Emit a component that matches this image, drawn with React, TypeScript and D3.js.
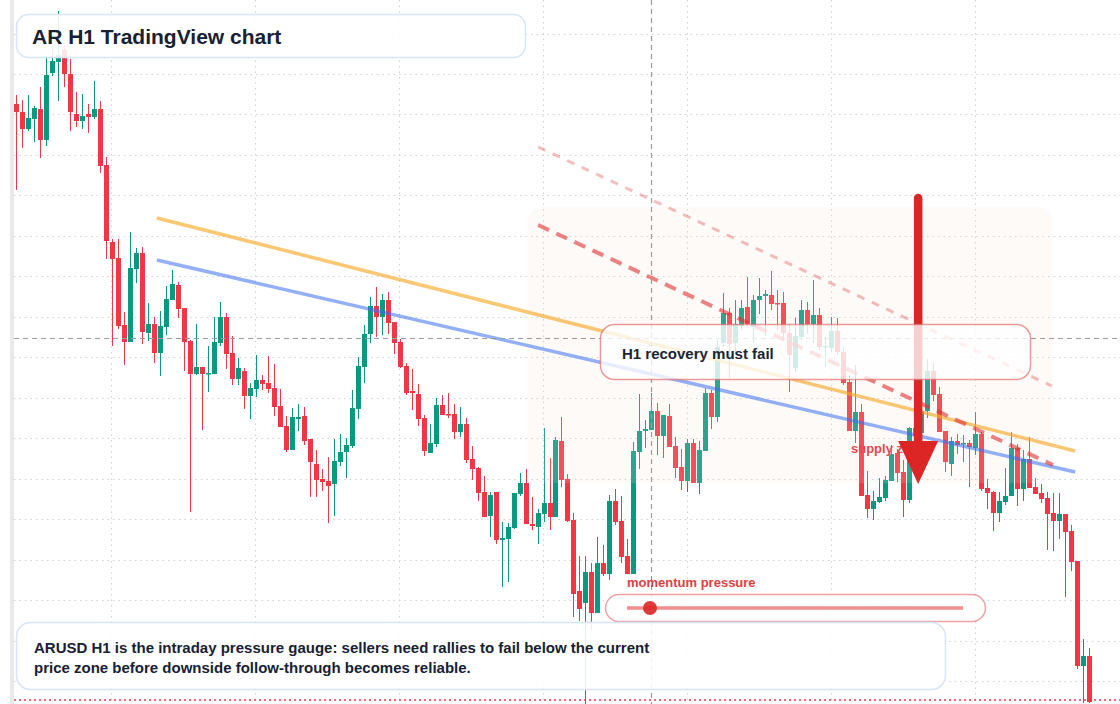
import React, { useEffect, useRef } from 'react';
import * as d3 from 'd3';

const W = 1120;
const H = 704;
const FONT = "'Liberation Sans', Arial, Helvetica, sans-serif";

// AR H1 candles, oldest first (price x 100)
const opens = [
  696, 688, 671, 681, 691, 660, 727, 738, 750, 726, 686, 679, 686, 683, 691, 635, 558, 542, 475, 458,
  531, 547, 467, 476, 447, 473, 500, 515, 492, 459, 426, 433, 426, 426, 457, 483, 447, 421, 429, 404,
  411, 420, 417, 412, 394, 374, 350, 381, 384, 361, 336, 321, 319, 316, 338, 348, 354, 391, 433, 466,
  494, 483, 500, 478, 458, 434, 409, 406, 382, 347, 356, 395, 386, 386, 368, 376, 341, 332, 308, 284,
  308, 260, 261, 272, 306, 317, 276, 273, 286, 297, 283, 359, 321, 280, 209, 197, 228, 187, 237, 226,
  299, 279, 244, 226, 348, 369, 370, 389, 364, 384, 354, 333, 319, 357, 317, 349, 407, 383, 457, 487,
  457, 474, 493, 473, 500, 504, 505, 497, 497, 467, 432, 463, 490, 476, 485, 453, 452, 469, 448, 418,
  369, 388, 305, 291, 298, 302, 319, 347, 328, 300, 372, 367, 389, 429, 406, 369, 336, 359, 356, 357,
  352, 366, 312, 308, 287, 298, 304, 352, 311, 341, 313, 307, 302, 287, 279, 286, 269, 239, 134, 144,
];
const highs = [
  705, 700, 705, 694, 713, 743, 755, 789, 755, 741, 708, 706, 696, 719, 699, 643, 561, 561, 488, 568,
  552, 553, 497, 483, 489, 514, 530, 518, 492, 460, 476, 433, 454, 483, 498, 487, 464, 442, 432, 417,
  445, 425, 444, 436, 411, 384, 392, 396, 393, 361, 350, 331, 343, 361, 366, 362, 410, 443, 475, 503,
  513, 506, 508, 478, 461, 437, 431, 416, 385, 376, 402, 405, 407, 396, 393, 382, 354, 333, 324, 308,
  308, 278, 277, 307, 327, 331, 303, 291, 372, 342, 363, 383, 326, 287, 244, 244, 237, 263, 255, 305,
  311, 304, 261, 358, 406, 380, 407, 397, 385, 396, 363, 351, 361, 361, 359, 412, 410, 460, 507, 492,
  500, 500, 523, 505, 522, 510, 529, 510, 508, 476, 482, 500, 498, 520, 492, 463, 483, 482, 453, 425,
  435, 396, 329, 309, 322, 324, 355, 351, 340, 373, 380, 395, 441, 437, 413, 369, 363, 366, 365, 360,
  388, 368, 321, 309, 308, 332, 368, 356, 350, 363, 322, 316, 308, 307, 307, 286, 275, 239, 161, 152,
];
const lows = [
  610, 652, 669, 658, 642, 654, 724, 699, 713, 669, 673, 671, 667, 681, 627, 541, 454, 471, 435, 458,
  517, 456, 459, 437, 424, 465, 500, 482, 429, 288, 425, 370, 408, 426, 454, 431, 415, 415, 391, 381,
  403, 410, 407, 384, 373, 348, 350, 369, 355, 303, 303, 309, 277, 284, 334, 322, 352, 381, 417, 457,
  463, 465, 466, 446, 432, 405, 390, 374, 344, 347, 353, 385, 382, 361, 363, 337, 320, 299, 283, 263,
  256, 213, 218, 271, 304, 276, 270, 256, 278, 270, 283, 313, 278, 183, 179, 96, 170, 187, 224, 220,
  275, 237, 226, 226, 331, 352, 370, 345, 342, 353, 322, 310, 308, 317, 306, 349, 371, 378, 453, 422,
  447, 470, 474, 457, 486, 464, 490, 470, 460, 408, 428, 460, 466, 457, 450, 433, 448, 445, 415, 369,
  357, 304, 282, 280, 297, 299, 319, 318, 283, 297, 355, 364, 382, 399, 368, 328, 324, 346, 338, 313,
  345, 309, 291, 269, 278, 295, 304, 294, 299, 312, 306, 297, 250, 249, 261, 203, 229, 131, 97, 97,
];
const closes = [
  688, 671, 682, 692, 660, 725, 739, 745, 726, 688, 679, 684, 683, 691, 634, 559, 541, 474, 458, 532,
  547, 468, 476, 447, 474, 501, 516, 491, 458, 426, 433, 426, 427, 458, 483, 446, 421, 432, 404, 412,
  420, 416, 411, 393, 373, 350, 383, 383, 359, 338, 320, 318, 314, 339, 348, 355, 392, 434, 466, 494,
  483, 500, 477, 457, 433, 407, 407, 381, 349, 357, 395, 385, 385, 368, 376, 340, 331, 307, 283, 305,
  260, 262, 273, 307, 317, 276, 274, 287, 297, 283, 360, 320, 279, 206, 191, 228, 187, 237, 226, 299,
  278, 243, 226, 349, 369, 371, 389, 364, 385, 353, 332, 319, 357, 317, 350, 407, 383, 453, 487, 456,
  476, 492, 476, 500, 504, 506, 496, 496, 467, 445, 464, 490, 476, 485, 453, 454, 469, 448, 417, 369,
  388, 304, 291, 299, 303, 320, 346, 327, 300, 372, 364, 389, 429, 405, 368, 338, 359, 355, 357, 353,
  366, 311, 307, 287, 299, 304, 352, 311, 341, 312, 306, 301, 286, 279, 286, 268, 238, 134, 144, 98,
];

// horizontal price grid and time grid (candle index)
const priceGrid = [7.66, 7.26, 6.86, 6.45, 6.05, 5.64, 5.24, 4.83, 4.43, 4.02, 3.62, 3.21, 2.81, 2.40, 2.00, 1.59, 1.19];
const timeGrid = [15.9, 39.9, 63.9, 87.9, 111.9, 135.9, 159.9];

// drawings, in (candle index, price)
const orangeTrend = [{ i: 23.5, p: 5.82 }, { i: 176.7, p: 3.49 }];
const blueTrend = [{ i: 23.5, p: 5.40 }, { i: 176.7, p: 3.28 }];
const pressureLine = [{ i: 87.1, p: 5.75 }, { i: 173.0, p: 3.35 }];
const pressureOuter = [{ i: 87.1, p: 6.53 }, { i: 172.8, p: 4.14 }];
const supplyZone = { i0: 85.3, i1: 173.0, top: 5.93, bottom: 3.17 };
const arrowPath = { i: 150.5, from: 6.02, to: 3.16 };
const crosshair = { i: 105.94, p: 4.62 };
const lastLine = 1.0;

const App: React.FC = () => {
  const svgRef = useRef<SVGSVGElement>(null);

  useEffect(() => {
    document.body.style.margin = '0';
    document.body.style.overflow = 'hidden';
    if (!svgRef.current) return;
    const svg = d3.select(svgRef.current);
    svg.selectAll('*').remove();

    const x = d3.scaleLinear().domain([0, opens.length - 1]).range([16, 1089]);
    const y = d3.scaleLinear().domain([0.96, 8]).range([H, 0]);

    const candles = opens.map((o, i) => ({
      i,
      o: o / 100,
      h: highs[i] / 100,
      l: lows[i] / 100,
      c: closes[i] / 100,
    }));

    svg.append('rect').attr('width', W).attr('height', H).attr('fill', '#ffffff');

    // grid
    const grid = svg.append('g').attr('stroke', '#cdd1d8').attr('stroke-width', 1).attr('stroke-dasharray', '1.5 4');
    grid.selectAll('line.h')
      .data(priceGrid)
      .enter()
      .append('line')
      .attr('x1', 14)
      .attr('x2', W)
      .attr('y1', d => Math.round(y(d)) + 0.5)
      .attr('y2', d => Math.round(y(d)) + 0.5);
    grid.selectAll('line.v')
      .data(timeGrid)
      .enter()
      .append('line')
      .attr('y1', 0)
      .attr('y2', H)
      .attr('x1', d => Math.round(x(d)) + 0.5)
      .attr('x2', d => Math.round(x(d)) + 0.5);

    svg.append('rect').attr('x', 10).attr('y', 0).attr('width', 4).attr('height', H).attr('fill', '#e9e9ea');

    // candles
    const cg = svg.append('g');
    const up = '#089981';
    const down = '#f23645';
    cg.selectAll('line.wick')
      .data(candles)
      .enter()
      .append('line')
      .attr('x1', d => Math.round(x(d.i)) + 0.5)
      .attr('x2', d => Math.round(x(d.i)) + 0.5)
      .attr('y1', d => y(d.h))
      .attr('y2', d => y(d.l))
      .attr('stroke', d => (d.c >= d.o ? up : down))
      .attr('stroke-width', 1);
    cg.selectAll('rect.body')
      .data(candles)
      .enter()
      .append('rect')
      .attr('x', d => Math.round(x(d.i)) - 2)
      .attr('width', 5)
      .attr('y', d => y(Math.max(d.o, d.c)))
      .attr('height', d => Math.max(1.5, Math.abs(y(d.o) - y(d.c))))
      .attr('fill', d => (d.c >= d.o ? up : down));

    // supply zone shade
    svg.append('rect')
      .attr('x', x(supplyZone.i0))
      .attr('y', y(supplyZone.top))
      .attr('width', x(supplyZone.i1) - x(supplyZone.i0))
      .attr('height', y(supplyZone.bottom) - y(supplyZone.top))
      .attr('rx', 16)
      .attr('fill', '#f3e0d6')
      .attr('opacity', 0.16);

    const seg = (pts: { i: number; p: number }[]) =>
      svg.append('line')
        .attr('x1', x(pts[0].i))
        .attr('y1', y(pts[0].p))
        .attr('x2', x(pts[1].i))
        .attr('y2', y(pts[1].p));

    seg(orangeTrend).attr('stroke', '#f7a928').attr('stroke-opacity', 0.65).attr('stroke-width', 3.5);
    seg(blueTrend).attr('stroke', '#3b6ff0').attr('stroke-opacity', 0.55).attr('stroke-width', 3.5);
    seg(pressureOuter)
      .attr('stroke', '#e03131').attr('stroke-opacity', 0.32).attr('stroke-width', 3)
      .attr('stroke-dasharray', '8 8');
    seg(pressureLine)
      .attr('stroke', '#e03131').attr('stroke-opacity', 0.6).attr('stroke-width', 4)
      .attr('stroke-dasharray', '12 8');

    // crosshair
    svg.append('line')
      .attr('x1', 14).attr('x2', W)
      .attr('y1', Math.round(y(crosshair.p)) + 0.5).attr('y2', Math.round(y(crosshair.p)) + 0.5)
      .attr('stroke', '#9b9b9b').attr('stroke-width', 1.2).attr('stroke-dasharray', '5 4');
    svg.append('line')
      .attr('x1', Math.round(x(crosshair.i)) + 0.5).attr('x2', Math.round(x(crosshair.i)) + 0.5)
      .attr('y1', 0).attr('y2', H)
      .attr('stroke', '#9b9b9b').attr('stroke-width', 1.2).attr('stroke-dasharray', '5 4');

    // last price line
    svg.append('line')
      .attr('x1', 14).attr('x2', W)
      .attr('y1', y(lastLine)).attr('y2', y(lastLine))
      .attr('stroke', '#f23645').attr('stroke-width', 1.5).attr('stroke-dasharray', '2 3');

    svg.append('text')
      .attr('x', 851).attr('y', 453)
      .attr('font-family', FONT).attr('font-size', 13).attr('font-weight', 700)
      .attr('fill', '#e5484d')
      .text('supply zone');

    // arrow
    const ax = x(arrowPath.i);
    svg.append('line')
      .attr('x1', ax).attr('x2', ax)
      .attr('y1', y(arrowPath.from)).attr('y2', y(arrowPath.to) - 38)
      .attr('stroke', '#dc2626').attr('stroke-width', 8.5).attr('stroke-linecap', 'round');
    const tip = y(arrowPath.to);
    svg.append('path')
      .attr('d', `M${ax - 20},${tip - 43}L${ax + 20},${tip - 43}L${ax},${tip}Z`)
      .attr('fill', '#dc2626');

    // callout
    svg.append('rect')
      .attr('x', 600.5).attr('y', 324.5).attr('width', 430).attr('height', 55).attr('rx', 14)
      .attr('fill', '#ffffff').attr('fill-opacity', 0.78)
      .attr('stroke', '#e06666').attr('stroke-opacity', 0.65).attr('stroke-width', 1.5);
    svg.append('text')
      .attr('x', 622).attr('y', 359)
      .attr('font-family', FONT).attr('font-size', 15).attr('font-weight', 700)
      .attr('fill', '#1a2434')
      .text('H1 recovery must fail');

    // momentum gauge
    svg.append('text')
      .attr('x', 627).attr('y', 587)
      .attr('font-family', FONT).attr('font-size', 13).attr('font-weight', 700)
      .attr('fill', '#e03e3e')
      .text('momentum pressure');
    svg.append('rect')
      .attr('x', 605.5).attr('y', 594.5).attr('width', 380).attr('height', 27).attr('rx', 13.5)
      .attr('fill', '#ffffff').attr('fill-opacity', 0.9)
      .attr('stroke', '#e06666').attr('stroke-opacity', 0.6).attr('stroke-width', 1.5);
    svg.append('line')
      .attr('x1', 627).attr('x2', 963).attr('y1', 608).attr('y2', 608)
      .attr('stroke', '#e03131').attr('stroke-opacity', 0.55).attr('stroke-width', 3.5);
    svg.append('circle')
      .attr('cx', 650).attr('cy', 608).attr('r', 7)
      .attr('fill', '#dc2626').attr('fill-opacity', 0.9);

    // title
    svg.append('rect')
      .attr('x', 16.5).attr('y', 14.5).attr('width', 509).attr('height', 43).attr('rx', 12)
      .attr('fill', '#ffffff').attr('fill-opacity', 0.88)
      .attr('stroke', '#d6e3f8').attr('stroke-width', 1.5);
    svg.append('text')
      .attr('x', 32).attr('y', 43.5)
      .attr('font-family', FONT).attr('font-size', 21).attr('font-weight', 700)
      .attr('fill', '#172133')
      .text('AR H1 TradingView chart');

    // note
    svg.append('rect')
      .attr('x', 16.5).attr('y', 622.5).attr('width', 929).attr('height', 67).attr('rx', 14)
      .attr('fill', '#ffffff').attr('fill-opacity', 0.88)
      .attr('stroke', '#d6e3f8').attr('stroke-width', 1.5);
    const note = svg.append('text')
      .attr('font-family', FONT).attr('font-size', 15).attr('font-weight', 700)
      .attr('fill', '#172133');
    note.append('tspan').attr('x', 34).attr('y', 653)
      .text('ARUSD H1 is the intraday pressure gauge: sellers need rallies to fail below the current');
    note.append('tspan').attr('x', 34).attr('y', 673)
      .text('price zone before downside follow-through becomes reliable.');
  }, []);

  return <svg ref={svgRef} width={W} height={H} style={{ display: 'block' }} />;
};

export default App;
